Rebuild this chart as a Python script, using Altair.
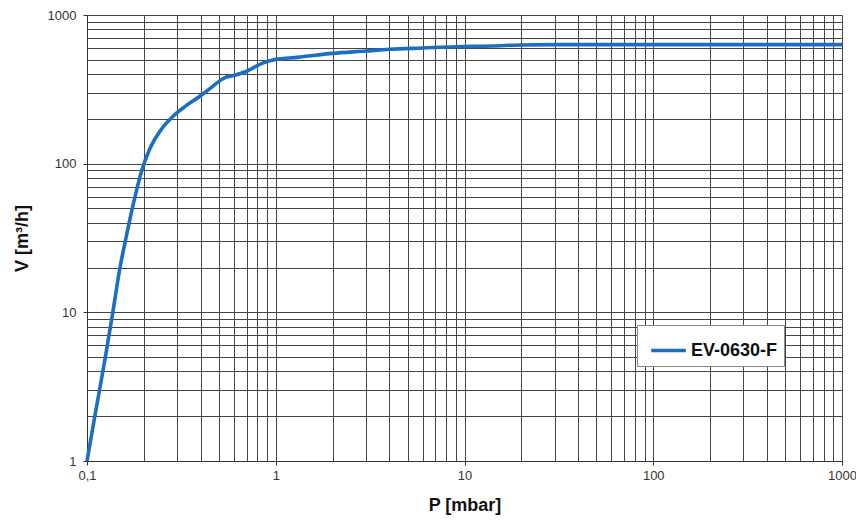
import altair as alt
import pandas as pd

# Pressure [mbar] and pumping speed [m3/h]
P = [0.1, 0.11, 0.12, 0.127, 0.1375, 0.149, 0.162, 0.175, 0.194, 0.214, 0.25,
     0.284, 0.33, 0.393, 0.45, 0.542, 0.6, 0.691, 0.845, 1.0, 1.3, 2.0, 3.0,
     4.0, 6.0, 9.0, 14.0, 20.0, 30.0, 50.0, 100.0, 300.0, 1000.0]
V = [1, 2.0, 3.7, 5.6, 10.3, 19.5, 33, 52, 88, 124, 173,
     207, 242, 282, 321, 381, 392, 415, 473, 503, 519, 552, 572,
     588, 600, 612, 618, 629, 632, 632, 632, 632, 632]
SERIES = "EV-0630-F"

x_ticks = [round(m * 10 ** e, 6) for e in range(-1, 3) for m in range(1, 10)] + [1000]
y_ticks = [round(m * 10 ** e, 6) for e in range(0, 3) for m in range(1, 10)] + [1000]

df = pd.DataFrame({"P": P, "V": V, "Serie": [SERIES] * len(P)})

FONT = "Liberation Sans"
x_dec = "datum.value == 0.1 || datum.value == 1 || datum.value == 10 || datum.value == 100 || datum.value == 1000"
y_dec = "datum.value == 1 || datum.value == 10 || datum.value == 100 || datum.value == 1000"

x_axis = alt.Axis(
    values=x_ticks,
    labelExpr=f"datum.value == 0.1 ? '0,1' : (({x_dec}) ? format(datum.value, 'd') : '')",
    labelOverlap=False, labelFlush=False,
    grid=True, gridColor="#444", gridWidth=1,
    domainColor="#333", domainWidth=1,
    tickSize=4, tickColor={"condition": {"test": x_dec, "value": "#333"}, "value": "transparent"},
    labelFont=FONT, labelFontSize=13, labelColor="#333", labelPadding=4,
    title="P [mbar]", titleFont=FONT, titleFontSize=18, titleFontWeight="bold",
    titleColor="#111", titlePadding=14,
)
y_axis = alt.Axis(
    values=y_ticks,
    labelExpr=f"({y_dec}) ? format(datum.value, 'd') : ''",
    labelOverlap=False, labelFlush=False,
    grid=True, gridColor="#444", gridWidth=1,
    domainColor="#333", domainWidth=1,
    tickSize=4, tickColor={"condition": {"test": y_dec, "value": "#333"}, "value": "transparent"},
    labelFont=FONT, labelFontSize=13, labelColor="#333", labelPadding=7,
    title="V [m³/h]", titleFont=FONT, titleFontSize=18, titleFontWeight="bold",
    titleColor="#111", titlePadding=16,
)

chart = alt.Chart(df).mark_line(strokeWidth=3.6, interpolate="monotone").encode(
    x=alt.X("P:Q", scale=alt.Scale(type="log", domain=[0.1, 1000], nice=False), axis=x_axis),
    y=alt.Y("V:Q", scale=alt.Scale(type="log", domain=[1, 1000], nice=False), axis=y_axis),
    color=alt.Color(
        "Serie:N",
        scale=alt.Scale(domain=[SERIES], range=["#1b6ec2"]),
        legend=alt.Legend(
            title=None, orient="none", legendX=550, legendY=310,
            fillColor="white", strokeColor="#888", padding=6,
            symbolType="stroke", symbolStrokeWidth=3.5, symbolSize=1200,
            symbolOffset=6,
            labelExpr="datum.label + '\u00a0\u00a0\u00a0'",
            labelFont=FONT, labelFontSize=18, labelFontWeight="bold",
            labelColor="#111", labelOffset=3,
        ),
    ),
).properties(
    width=755, height=446,
    autosize=alt.AutoSizeParams(type="none"),
    padding={"left": 79, "top": 7, "right": 14, "bottom": 55},
).configure_view(strokeWidth=0)

chart.save("out.html", embed_options={"renderer": "svg", "actions": False})
